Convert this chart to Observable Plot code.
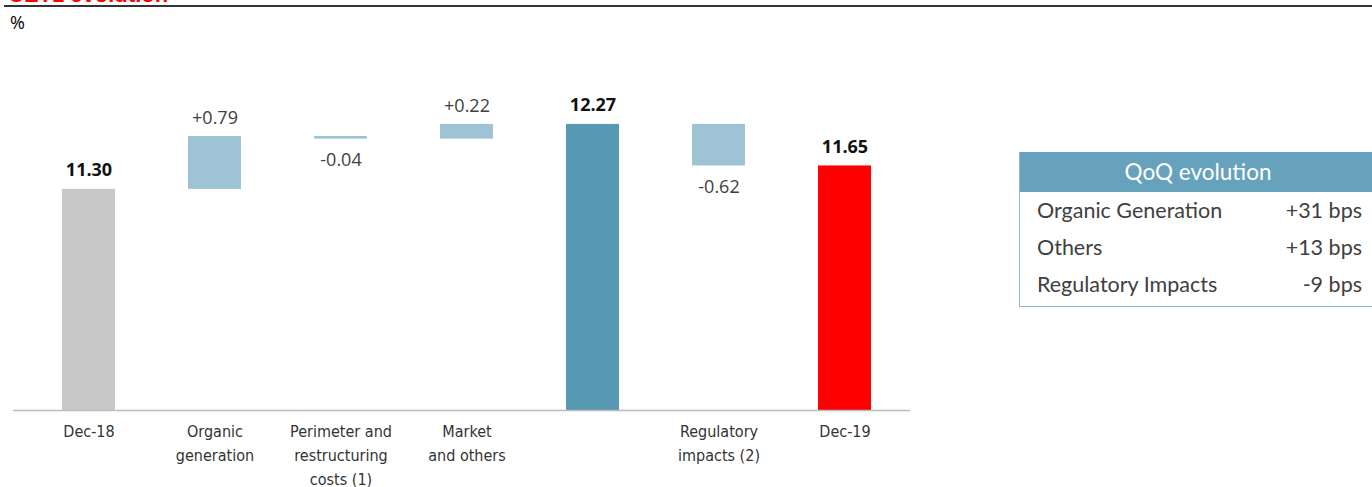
<!DOCTYPE html>
<html>
<head>
<meta charset="utf-8">
<script src="https://cdn.jsdelivr.net/npm/d3@7"></script>
<script src="https://cdn.jsdelivr.net/npm/@observablehq/plot@0.6"></script>
<style>
  body { margin: 0; background: #fff; width: 1372px; height: 487px; overflow: hidden; position: relative; font-family: "Open Sans", sans-serif; }
  #title { position: absolute; left: 8px; top: -16px; font: bold 22px "Liberation Sans", Arial, sans-serif; color: #ff0000; line-height: 22px; white-space: nowrap; }
  #rule { position: absolute; left: 4px; top: 5px; width: 1368px; height: 2px; background: #333; }
  #unit { position: absolute; left: 10px; top: 10px; font: 18px "Open Sans", sans-serif; color: #000; }
  #chart { position: absolute; left: 0; top: 0; }
  #qoq { position: absolute; left: 1019px; top: 152px; width: 360px; border: 1px solid #8fb8cc; border-right: none; border-top: none; font-family: Lato, "Open Sans", sans-serif; font-size: 21.5px; color: #404040; }
  #qoq .hd { background: #67a2bc; color: #fff; height: 40px; line-height: 40px; text-align: center; font-size: 22.5px; padding-right: 4px; }
  #qoq .row { display: flex; justify-content: space-between; height: 37px; line-height: 37px; padding: 0 18px 0 17px; }
  #qoq .row:last-child { height: 40px; line-height: 36px; }
</style>
</head>
<body>
<div id="title">CET1 evolution</div>
<div id="rule"></div>
<div id="unit">%</div>
<div id="chart"></div>
<div id="qoq"></div>
<script>
const categories = ["Dec-18", "Organic generation", "Perimeter and restructuring costs (1)", "Market and others", "Subtotal", "Regulatory impacts (2)", "Dec-19"];
const tickLabels = ["Dec-18", "Organic\ngeneration", "Perimeter and\nrestructuring\ncosts (1)", "Market\nand others", "", "Regulatory\nimpacts (2)", "Dec-19"];
const values = [11.30, 0.79, -0.04, 0.22, 12.27, -0.62, 11.65];
const kinds = ["start", "delta", "delta", "delta", "total", "delta", "end"];
const valueLabels = ["11.30", "+0.79", "-0.04", "+0.22", "12.27", "-0.62", "11.65"];

const qoqTitle = "QoQ evolution";
const qoqNames = ["Organic Generation", "Others", "Regulatory Impacts"];
const qoqValues = ["+31 bps", "+13 bps", "-9 bps"];

const base = 8;
let running = 0;
const rows = categories.map((c, i) => {
  const k = kinds[i];
  let y1, y2;
  if (k === "delta") { y1 = running; y2 = running + values[i]; running = y2; }
  else { y1 = base; y2 = values[i]; running = values[i]; }
  return {cat: c, kind: k, y1, y2, top: Math.max(y1, y2), bottom: Math.min(y1, y2), label: valueLabels[i], neg: values[i] < 0 && k === "delta"};
});

const colorOf = {start: "#c8c8c8", delta: "#9dc3d4", total: "#5799b3", end: "#ff0000"};

const chart = Plot.plot({
  width: 920,
  height: 487,
  marginLeft: 13,
  marginRight: 10,
  marginTop: 75,
  marginBottom: 77,
  x: {domain: categories, paddingInner: 0.58, paddingOuter: 0.3355, align: 0.558, label: null},
  y: {domain: [8, 13], axis: null},
  marks: [
    Plot.barY(rows, {x: "cat", y1: "y1", y2: "y2", fill: d => colorOf[d.kind]}),
    Plot.ruleY([base], {stroke: "#bdbdbd", strokeWidth: 1.5}),
    Plot.text(rows.filter(d => d.kind !== "delta"), {x: "cat", y: "top", text: "label", dy: -19, fontSize: 18, fontWeight: "bold", fill: "#111", fontFamily: "Open Sans"}),
    Plot.text(rows.filter(d => d.kind === "delta" && !d.neg), {x: "cat", y: "top", text: "label", dy: -18, fontSize: 18, fill: "#404040", fontFamily: "Open Sans"}),
    Plot.text(rows.filter(d => d.neg), {x: "cat", y: "bottom", text: "label", dy: 21, fontSize: 18, fill: "#404040", fontFamily: "Open Sans"}),
    Plot.axisX({tickSize: 0, tickPadding: 9, fontSize: 16, lineHeight: 1.5, tickFormat: d => tickLabels[categories.indexOf(d)], fill: "#333", fontFamily: "Liberation Sans Narrow, DejaVu Sans Condensed, sans-serif", label: null})
  ],
  style: {background: "transparent", overflow: "visible"}
});
document.getElementById("chart").appendChild(chart);

const t = document.getElementById("qoq");
const hd = document.createElement("div");
hd.className = "hd"; hd.textContent = qoqTitle; t.appendChild(hd);
qoqNames.forEach((n, i) => {
  const r = document.createElement("div");
  r.className = "row";
  const a = document.createElement("span"); a.textContent = n;
  const b = document.createElement("span"); b.textContent = qoqValues[i];
  r.appendChild(a); r.appendChild(b); t.appendChild(r);
});
</script>
</body>
</html>
